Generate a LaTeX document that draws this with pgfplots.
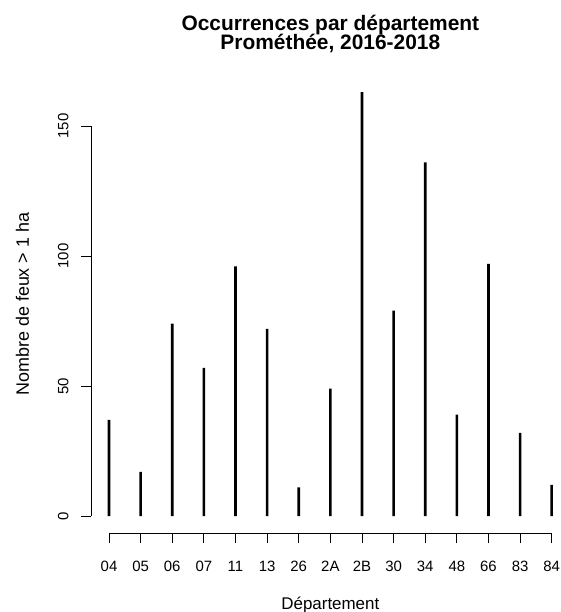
\documentclass[border=0pt]{standalone}
\usepackage{fontspec}
\setmainfont{Liberation Sans}
\usepackage{pgfplots}
\pgfplotsset{compat=1.18}
\begin{document}
\begin{tikzpicture}
\begin{axis}[
  scale only axis,
  width=478.1bp, height=457.7bp,
  xmin=0.44, xmax=15.56, ymin=-6.52, ymax=169.52,
  axis line style={draw=none},
  xtick={1,2,3,4,5,6,7,8,9,10,11,12,13,14,15},
  xticklabels={04,05,06,07,11,13,26,2A,2B,30,34,48,66,83,84},
  ytick={0,50,100,150},
  xtick pos=bottom, ytick pos=left,
  tick align=outside,
  major tick length=10bp,
  tick style={black, line width=0.9bp},
  /pgf/number format/assume math mode=true,
  ticklabel style={font=\fontsize{15}{18}\selectfont},
  xticklabel style={anchor=base, yshift=-28.4bp},
  yticklabel style={xshift=-13bp, rotate=90, anchor=base},
  clip=false,
]
\addplot[ybar, bar width=2.6bp, fill=black, draw=none] coordinates {
  (1,37) (2,17) (3,74) (4,57) (5,96) (6,72) (7,11) (8,49)
  (9,163) (10,79) (11,136) (12,39) (13,97) (14,32) (15,12)
};
\draw[line width=0.9bp] (axis cs:1,-6.52) -- (axis cs:15,-6.52);
\draw[line width=0.9bp] (axis cs:0.44,0) -- (axis cs:0.44,150);
\coordinate (sw) at (rel axis cs:0,0);
\path (rel axis cs:0.5,1) ++(0bp,44.6bp) node[anchor=base, font=\bfseries\fontsize{21}{25}\selectfont, inner sep=0pt] {Occurrences par département};
\path (rel axis cs:0.5,1) ++(0bp,25.3bp) node[anchor=base, font=\bfseries\fontsize{21}{25}\selectfont, inner sep=0pt] {Prométhée, 2016-2018};
\path (rel axis cs:0.5,0) ++(0bp,-76bp) node[anchor=base, font=\fontsize{17}{20}\selectfont, inner sep=0pt] {Département};
\path (rel axis cs:0,0.5) ++(-62.3bp,0bp) node[rotate=90, anchor=base, font=\fontsize{18}{21}\selectfont, inner sep=0pt] {Nombre de feux > 1 ha};
\end{axis}
\pgfresetboundingbox
\path[use as bounding box] (sw) ++(-91.3bp,-79bp) rectangle ++(561bp,612bp);
\end{tikzpicture}
\end{document}
